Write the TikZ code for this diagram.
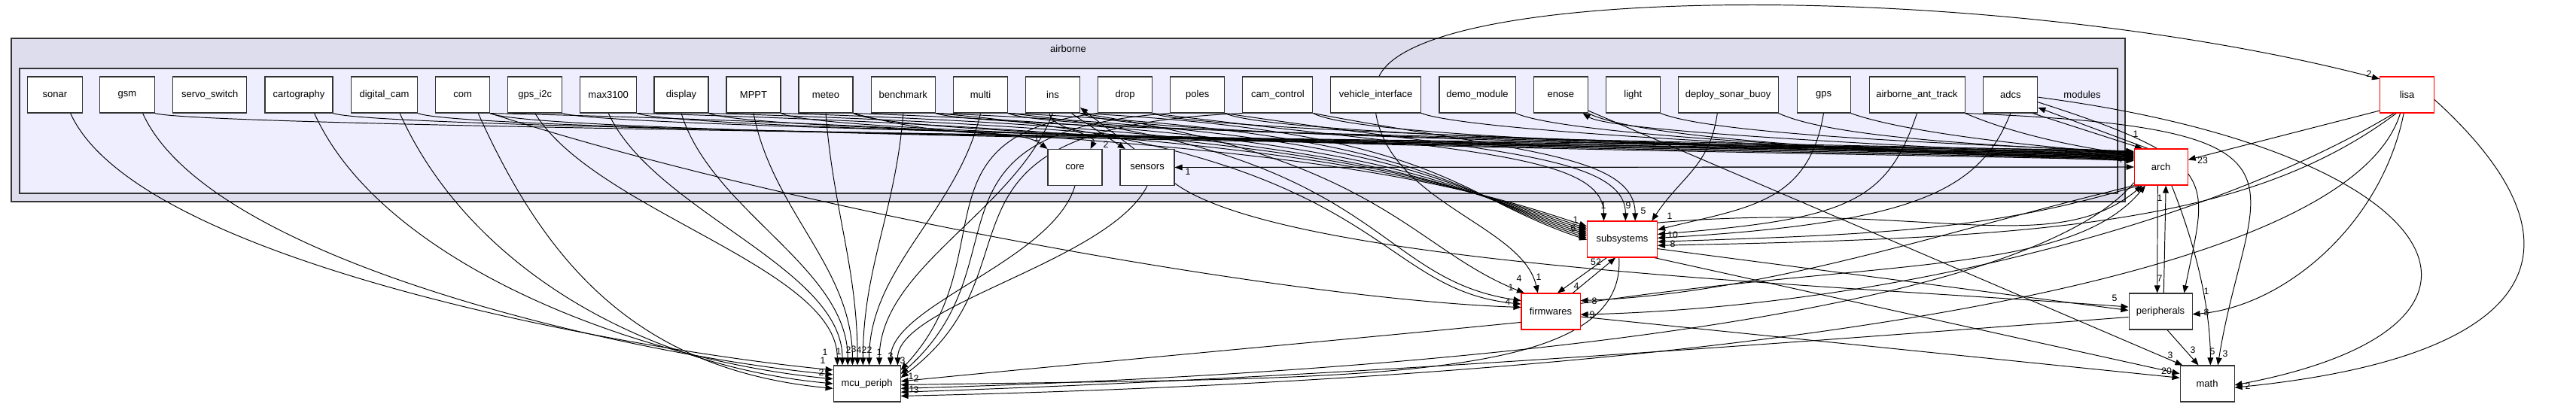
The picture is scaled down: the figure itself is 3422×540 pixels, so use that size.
\documentclass[tikz,border=0pt]{standalone}
\usepackage{fontspec}
\setmainfont{Liberation Sans}
\usetikzlibrary{arrows.meta}
\definecolor{DirLine}{HTML}{333333}
\definecolor{AirFill}{HTML}{DDDDEE}
\definecolor{ModFill}{HTML}{EEEEFF}
\definecolor{DirRed}{HTML}{FF0000}
\pgfdeclarelayer{back}
\pgfdeclarelayer{wires}
\pgfsetlayers{back,wires,main}
\tikzset{
  every node/.style={font=\fontsize{7.4}{8}\selectfont},
  dirbox/.style={draw=DirLine, fill=white, line width=0.6pt, minimum height=9.6mm, inner sep=0pt},
  redbox/.style={dirbox, draw=DirRed},
  cluster/.style={draw=DirLine, line width=0.9pt},
  dep/.style={-{Triangle[length=5.7pt,width=4.4pt]}, line width=0.55pt},
  cnt/.style={font=\fontsize{7}{8}\selectfont, inner sep=0pt},
}
\begin{document}
\begin{tikzpicture}[x=0.2mm,y=-0.2mm]
  \useasboundingbox (0,0) rectangle (3422,540);
  \begin{pgfonlayer}{back}
    \draw[cluster, fill=AirFill] (15,51) rectangle (2823,268);
    \draw[cluster, fill=ModFill] (26,91) rectangle (2813,257);
  \end{pgfonlayer}
  \node (airborne) at (1419,65) {airborne};
  \node (modules) at (2766,126) {modules};
  % the modules row
  \foreach \n/\t/\x/\w in {sonar/sonar/73/14.5, gsm/gsm/169/14.5, servo/servo\_switch/278.7/19.6,
      carto/cartography/397/18, dcam/digital\_cam/510.5/17.6, com/com/614.6/14.4,
      gpsi2c/gps\_i2c/710.7/14.4, max/max3100/808.2/15, display/display/905/14.4,
      mppt/MPPT/1001/14.4, meteo/meteo/1097/14.4, bench/benchmark/1199.8/17,
      multi/multi/1302.5/14.4, ins/ins/1398.5/14.4, drop/drop/1494.5/14.4,
      poles/poles/1590.7/14.4, camctl/cam\_control/1697.4/18.6, vehicle/vehicle\_interface/1827.6/24,
      demo/demo\_module/1962.5/20.2, enose/enose/2073.3/14.4, light/light/2169.3/14.4,
      buoy/deploy\_sonar\_buoy/2295.5/26.6, gps/gps/2422.5/14.2, anttrack/airborne\_ant\_track/2546.5/25.4,
      adcs/adcs/2670.8/14.4}
    \node[dirbox, minimum width=\w mm] (\n) at (\x,126) {\t};
  \node[dirbox, minimum width=14.4mm] (core) at (1428,222.5) {core};
  \node[dirbox, minimum width=14.4mm] (sensors) at (1524,222.5) {sensors};
  \node[redbox, minimum width=14.2mm] (arch) at (2870.6,222) {arch};
  \node[redbox, minimum width=14.4mm] (lisa) at (3197.5,126) {lisa};
  \node[redbox, minimum width=18.6mm] (subsys) at (2155,318) {subsystems};
  \node[redbox, minimum width=15.6mm] (firmw) at (2060,414) {firmwares};
  \node[dirbox, minimum width=16.8mm] (periph) at (2870,414) {peripherals};
  \node[dirbox, minimum width=17.8mm] (mcu) at (1151.6,510) {mcu\_periph};
  \node[dirbox, minimum width=14.4mm] (math) at (2932,510) {math};

  \begin{pgfonlayer}{wires}
  % into mcu_periph
  \foreach \s/\b in {sonar/158, gsm/165, carto/172, dcam/180, com/188}
    \draw[dep] (\s.-50) .. controls +(90,200) and +(-260,-25) .. (mcu.\b);
  \foreach \s/\u/\b in {gpsi2c/80/148, max/60/143, display/40/136, mppt/25/128, meteo/10/117,
      bench/-10/102, multi/-30/83, ins/-50/56}
    \draw[dep] (\s.south) .. controls +(\u,130) and +(0,-130) .. (mcu.\b);
  \foreach \s/\u/\b in {core/-30/38, sensors/-50/31}
    \draw[dep] (\s.south) .. controls +(\u,100) and +(0,-80) .. (mcu.\b);
  \foreach \s/\a/\ux/\uy/\vx/\vy/\b in {drop/south west/-250/30/140/-150/22,
      poles/south west/-350/25/170/-150/16, camctl/south west/-450/20/200/-150/10,
      firmw/200/-200/20/200/-20/4, subsys/-100/10/170/600/-10/-2, arch/-150/-150/180/700/-20/-8,
      periph/190/-400/30/600/-20/-14, lisa/-110/-80/260/900/-20/-20}
    \draw[dep] (\s.\a) .. controls +(\ux,\uy) and +(\vx,\vy) .. (mcu.\b);
  % modules to arch along the band
  \foreach \s/\d/\c/\b in {gsm/22/-350/150, carto/26/-350/152, dcam/30/-350/154, com/34/-350/156,
      gpsi2c/24/-350/158, max/28/-350/160, display/32/-350/162, mppt/36/-350/164, meteo/40/-350/166,
      bench/25/-350/151, multi/30/-350/153, ins/35/-350/155, drop/27/-350/157, poles/33/-350/159,
      camctl/38/-350/161, vehicle/26/-350/163, demo/31/-300/165, enose/36/-300/167,
      light/28/-250/150, buoy/32/-200/152, gps/25/-140/154, anttrack/30/-70/156}
    \draw[dep] (\s.south east) .. controls +(70,\d) and +(\c,-10) .. (arch.\b);
  % into subsystems
  \foreach \s/\u/\b in {com/1050/160, max/900/163, display/850/166, mppt/780/169, meteo/720/172,
      bench/640/175, multi/560/178, ins/480/181}
    \draw[dep] (\s.south east) .. controls +(\u,25) and +(-180,-60) .. (subsys.\b);
  \foreach \s/\u/\b in {drop/400/135, poles/330/80, camctl/260/55}
    \draw[dep] (\s.south east) .. controls +(\u,50) and +(0,-90) .. (subsys.\b);
  \draw[dep] (buoy.-120) .. controls +(-10,70) and +(40,-60) .. (subsys.32);
  \foreach \s/\a/\ux/\uy/\vx/\vy/\b in {gps/south/-20/120/120/-30/15, anttrack/south/-40/120/250/-20/8,
      adcs/south/-40/100/350/-20/2, arch/-140/-200/60/300/-10/-4, lisa/-120/-200/150/500/-10/-10}
    \draw[dep] (\s.\a) .. controls +(\ux,\uy) and +(\vx,\vy) .. (subsys.\b);
  % into firmwares
  \foreach \s/\a/\ux/\uy/\vx/\vy/\b in {com/south east/400/130/-300/-10/172,
      bench/south east/600/50/-200/-20/166, multi/south east/500/50/-200/-30/160,
      ins/south east/400/60/-150/-60/145, vehicle/south/20/120/-20/-90/125,
      arch/-145/-250/60/250/-10/20, lisa/-125/-250/150/400/-10/-6}
    \draw[dep] (\s.\a) .. controls +(\ux,\uy) and +(\vx,\vy) .. (firmw.\b);
  \draw[dep] (subsys.-130) -- (firmw.70);
  \draw[dep] (firmw.40) -- (subsys.-110);
  % arch, sensors, core, lisa
  \draw[dep] (sensors.east) -- (arch.west);
  \draw[dep] (arch.west) -- (sensors.east);
  \draw[dep] (adcs.-40) -- (arch.135);
  \draw[dep] (arch.125) -- (adcs.-25);
  \draw[dep] (lisa.-150) -- (arch.15);
  \draw[dep] (periph.80) -- (arch.-75);
  \draw[dep] (arch.-100) -- (periph.100);
  \draw[dep] (subsys.25) .. controls +(350,-30) and +(-120,100) .. (arch.-135);
  \draw[dep] (firmw.15) .. controls +(400,-60) and +(-100,120) .. (arch.-130);
  \draw[dep] (arch.160) .. controls +(-300,-15) and +(40,25) .. (enose.-40);
  \draw[dep] (ins.-45) -- (sensors.140);
  \draw[dep] (sensors.125) -- (ins.-25);
  \draw[dep] (meteo.south east) .. controls +(150,40) and +(-40,-30) .. (core.north west);
  \draw[dep] (ins.-100) .. controls +(0,20) and +(10,-20) .. (core.50);
  \draw[dep] (vehicle.80) .. controls +(60,-127) and +(-500,-130) .. (lisa.150);
  % peripherals
  \draw[dep] (sensors.-30) .. controls +(150,110) and +(-400,-30) .. (periph.172);
  \draw[dep] (subsys.-15) -- (periph.178);
  \draw[dep] (lisa.-100) .. controls +(-30,150) and +(120,-10) .. (periph.-5);
  \draw[dep] (adcs.-15) .. controls +(250,80) and +(30,-150) .. (periph.38);
  % math
  \draw[dep] (periph.-70) -- (math.115);
  \draw[dep] (arch.-60) .. controls +(40,100) and +(0,-60) .. (math.80);
  \draw[dep] (subsys.-30) -- (math.160);
  \draw[dep] (firmw.-10) -- (math.168);
  \draw[dep] (enose.-30) -- (math.143);
  \draw[dep] (anttrack.south east) .. controls +(500,20) and +(40,-250) .. (math.60);
  \draw[dep] (lisa.-10) .. controls +(220,200) and +(400,-40) .. (math.-8);
  \draw[dep] (adcs.-5) .. controls +(543,71) and +(420,-80) .. (math.-3);
  \end{pgfonlayer}

  % edge counts
  \foreach \x/\y/\t [count=\i] in {1096/468/1, 1114/467/1, 1127/465/2, 1134/464/3, 1141/465/4,
      1148/465/2, 1155/465/2, 1168/468/1, 1183/473/3, 1199/479/3, 1093/479/1, 1091/495/2,
      1210/500/1, 1217/503/2, 1211/517/1, 1217/518/3,
      2130/273/1, 2163/273/9, 2183/280/5, 2218/287/1, 2093/292/1, 2090/303/6, 2222/312/10, 2222/324/8,
      2018/370/4, 2044/368/1, 2007/382/1, 2003/401/4, 2094/380/4, 2120/348/52, 2118/400/8, 2115/418/9,
      2837/178/1, 2816/212/4, 2926/213/23, 2840/251/4, 2869/263/1,
      1377/183/1, 1469/192/2, 1578/228/1,
      2869/370/7, 2809/396/5, 2931/387/1, 2931/415/8,
      2883/472/3, 2913/465/3, 2939/467/5, 2956/470/3, 2878/493/20, 2986/513/2,
      3147/98/2}
    \node[cnt] (cnt\i) at (\x,\y) {\t};
\end{tikzpicture}
\end{document}
